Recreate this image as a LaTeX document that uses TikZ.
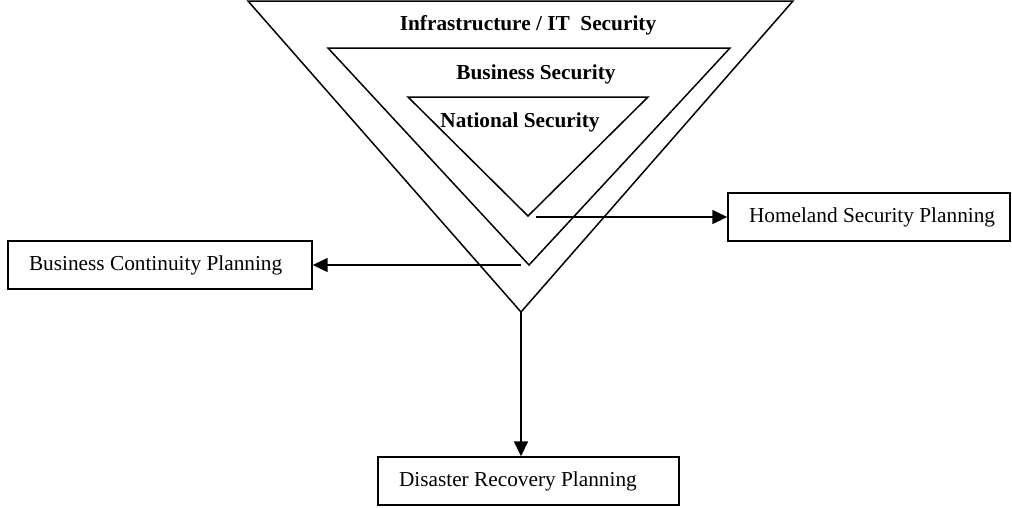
\documentclass[tikz,border=0pt]{standalone}
\usepackage{fontspec}
\setmainfont{Liberation Serif}
\usetikzlibrary{arrows.meta}
\tikzset{
  tri/.style={draw, line width=1.5pt},
  box/.style={draw, line width=1.4pt, inner xsep=21pt, inner ysep=0pt, minimum height=48pt, font=\fontsize{21.3}{25}\selectfont},
  lbl/.style={font=\fontsize{21.3}{25}\selectfont\bfseries, inner sep=0pt},
  conn/.style={line width=1.5pt, -{Triangle[length=15pt,width=14pt]}}
}
\begin{document}
\begin{tikzpicture}[x=1pt,y=-1pt]
\useasboundingbox (0,0) rectangle (1012,507);
% triangles
\coordinate (oA) at (248,1);
\coordinate (oB) at (793,1);
\coordinate (oC) at (521,312);
\coordinate (mA) at (328,48);
\coordinate (mB) at (730,48);
\coordinate (mC) at (529,265);
\coordinate (iA) at (408,97);
\coordinate (iB) at (648,97);
\coordinate (iC) at (528,216);
\draw[tri] (oA) -- (oB) -- (oC) -- cycle;
\draw[tri] (mA) -- (mB) -- (mC) -- cycle;
\draw[tri] (iA) -- (iB) -- (iC) -- cycle;
% labels
\node[lbl] (infra) at (528,25) {Infrastructure / IT\ \ Security};
\node[lbl] (bus) at (536,74) {Business Security};
\node[lbl] (nat) at (520,122) {National Security};
% boxes
\node[box] (hsp) at (869,217) {\makebox[240pt][l]{Homeland Security Planning}};
\node[box] (bcp) at (160,265) {\makebox[262pt][l]{Business Continuity Planning}};
\node[box] (drp) at (528.5,481) {\makebox[259pt][l]{Disaster Recovery Planning}};
% connectors
\coordinate (hs) at (536,217);
\coordinate (bc) at (521,265);
\draw[conn] (hs) -- (hs -| hsp.west);
\draw[conn] (bc) -- (bc -| bcp.east);
\draw[conn] (oC) -- (oC |- drp.north);
\end{tikzpicture}
\end{document}
